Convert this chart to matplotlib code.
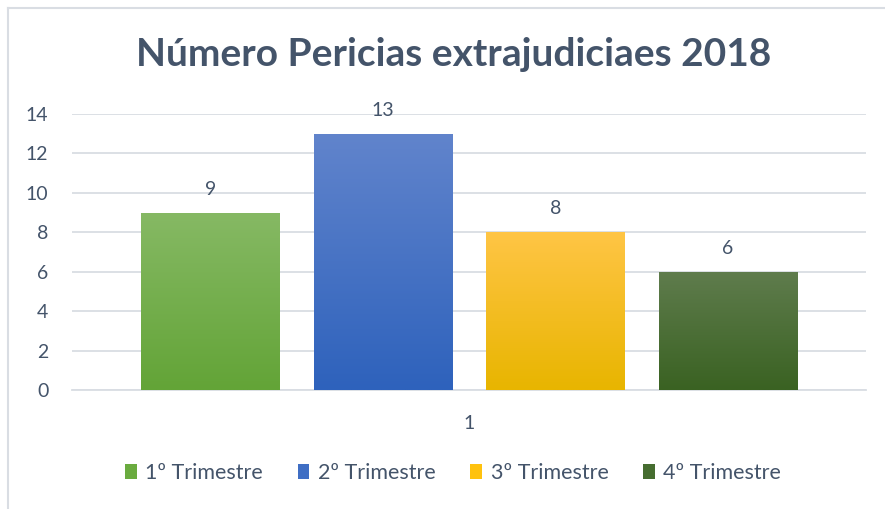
import numpy as np
import matplotlib.pyplot as plt
from matplotlib.patches import Patch
from matplotlib.lines import Line2D

# data
series = ['1º Trimestre', '2º Trimestre', '3º Trimestre', '4º Trimestre']
values = [9, 13, 8, 6]
category = ['1']
top_colors = ['#86b964', '#6184cc', '#ffc545', '#5f7c4d']
bottom_colors = ['#63a437', '#2e62bc', '#e8b500', '#3a6222']
legend_colors = ['#6aab3f', '#3f6ec4', '#ffc20e', '#466d30']

text_color = '#44546a'
grid_color = '#d9dde3'

plt.rcParams['font.family'] = ['Lato', 'DejaVu Sans']

fig = plt.figure(figsize=(8.85, 5.09), dpi=100)
ax = fig.add_axes([72 / 885, 1 - 390 / 509, 794 / 885, 276 / 509])

step = 172.5 / 794
width = 138.5 / 794
offsets = (np.arange(len(values)) - 1.5) * step

for i, (x, v) in enumerate(zip(offsets, values)):
    bar = ax.bar(x, v, width=width, color='none', edgecolor='none', zorder=3)[0]
    c1 = np.array(plt.matplotlib.colors.to_rgb(top_colors[i]))
    c2 = np.array(plt.matplotlib.colors.to_rgb(bottom_colors[i]))
    t = np.linspace(0, 1, 100)[:, None]
    grad = (c1 * (1 - t) + c2 * t)[:, None, :]
    im = ax.imshow(grad, extent=[x - width / 2, x + width / 2, 0, v],
                   aspect='auto', zorder=3, interpolation='bilinear')
    im.set_clip_path(bar)
    ax.text(x, v + 0.75, str(v), ha='center', va='bottom',
            fontsize=14, color=text_color)

ax.set_xlim(-0.5, 0.5)
ax.set_ylim(0, 14)
ax.set_yticks(range(0, 15, 2))
ax.set_xticks([0])
ax.set_xticklabels(category)
ax.tick_params(axis='both', length=0, labelsize=14, labelcolor=text_color)
ax.tick_params(axis='y', pad=17)
ax.tick_params(axis='x', pad=18)
ax.yaxis.grid(True, color=grid_color, linewidth=1.3, zorder=0)
ax.set_axisbelow(True)
for s in ['top', 'right', 'left']:
    ax.spines[s].set_visible(False)
ax.spines['bottom'].set_color(grid_color)
ax.spines['bottom'].set_linewidth(1.3)

fig.text(0.5125, 1 - 55 / 509, 'Número Pericias extrajudiciaes 2018',
         ha='center', va='center', fontsize=28, fontweight='bold', color=text_color)

handles = [Patch(facecolor=c, edgecolor='none') for c in legend_colors]
fig.legend(handles, series, loc='center', bbox_to_anchor=(0.512, 1 - 473 / 509),
           ncol=4, frameon=False, fontsize=15.5, labelcolor=text_color,
           handlelength=0.55, handleheight=0.75, handletextpad=0.4, columnspacing=1.6)

# chart frame
fig.add_artist(Line2D([8 / 885, 1], [1 - 8 / 509] * 2, color=grid_color, linewidth=1.5))
fig.add_artist(Line2D([8 / 885] * 2, [0, 1 - 8 / 509], color=grid_color, linewidth=1.5))

fig.savefig('out.png', dpi=100)
